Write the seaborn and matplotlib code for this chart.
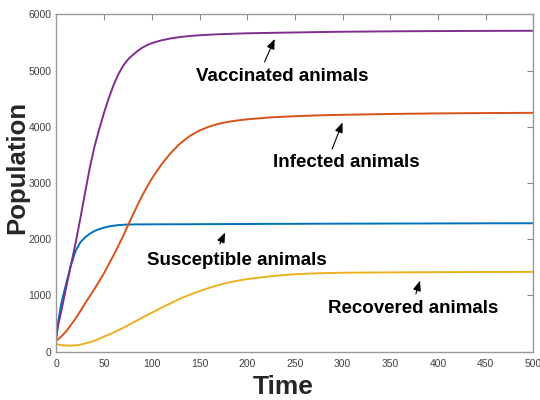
import matplotlib
matplotlib.use("Agg")
import matplotlib.pyplot as plt
import pandas as pd
import seaborn as sns

# Time grid shared by all compartments
time = [0, 2, 5, 7, 10, 15, 20, 25, 30, 35, 40, 45, 50, 55, 60, 65, 70, 75, 80,
        85, 90, 95, 100, 110, 120, 130, 140, 150, 160, 170, 180, 190, 200, 225,
        250, 275, 300, 350, 400, 450, 500]

susceptible = [250, 560, 850, 1000, 1200, 1530, 1790, 1945, 2035, 2100, 2148,
               2182, 2208, 2228, 2242, 2252, 2258, 2262, 2264, 2265, 2266, 2266,
               2266, 2267, 2267, 2268, 2268, 2269, 2270, 2270, 2271, 2271, 2272,
               2274, 2275, 2277, 2278, 2280, 2282, 2284, 2285]

infected = [200, 225, 270, 305, 360, 470, 590, 720, 860, 990, 1120, 1260, 1400,
            1560, 1720, 1890, 2060, 2250, 2430, 2610, 2780, 2935, 3080, 3330,
            3540, 3710, 3840, 3935, 4005, 4055, 4090, 4115, 4135, 4170, 4190,
            4205, 4215, 4230, 4240, 4246, 4250]

vaccinated = [330, 490, 720, 880, 1130, 1530, 1930, 2370, 2830, 3280, 3660,
              3970, 4260, 4520, 4750, 4940, 5090, 5200, 5280, 5350, 5410, 5455,
              5490, 5540, 5575, 5600, 5618, 5630, 5640, 5648, 5654, 5660, 5665,
              5673, 5680, 5687, 5693, 5700, 5705, 5708, 5710]

recovered = [130, 125, 118, 114, 110, 108, 112, 125, 145, 168, 195, 230, 268,
             305, 342, 383, 425, 470, 515, 560, 605, 650, 695, 782, 865, 945,
             1015, 1078, 1135, 1185, 1230, 1263, 1292, 1343, 1378, 1395, 1405,
             1411, 1415, 1418, 1420]

series_names = ["Susceptible", "Infected", "Vaccinated", "Recovered"]
series_colors = ["#0072BD", "#D95319", "#7E2F8E", "#EDB120"]

x_ticks = list(range(0, 501, 50))
y_ticks = list(range(0, 6001, 1000))

# Annotation labels: (text, text centre, arrow tail, arrow head) in data units
labels = [
    ("Vaccinated animals", (237, 4890), (217, 5110), (230, 5610)),
    ("Infected animals", (304, 3360), (288, 3560), (301, 4125)),
    ("Susceptible animals", (189, 1630), (170, 1870), (178, 2165)),
    ("Recovered animals", (374, 775), (376, 980), (382, 1310)),
]

df = pd.concat([
    pd.DataFrame({"Time": time, "Population": vals, "Group": name})
    for name, vals in zip(series_names, [susceptible, infected, vaccinated, recovered])
], ignore_index=True)

sns.set_theme(style="white")
plt.rcParams["font.family"] = ["Liberation Sans", "DejaVu Sans"]

fig = plt.figure(figsize=(5.4, 4.0), dpi=100)
ax = fig.add_axes([0.1046, 0.1208, 0.883, 0.843])

sns.lineplot(data=df, x="Time", y="Population", hue="Group",
             hue_order=series_names, palette=series_colors, linewidth=1.4,
             legend=False, ax=ax)

ax.set_xlim(0, 500)
ax.set_ylim(0, 6000)
ax.set_xticks(x_ticks)
ax.set_yticks(y_ticks)
ax.set_xticklabels([str(v) for v in x_ticks], fontsize=7.5, color="#404040")
ax.set_yticklabels([str(v) for v in y_ticks], fontsize=7.5, color="#404040")
ax.tick_params(direction="in", length=4, width=0.8, color="#888888",
               top=True, right=True)
ax.tick_params(axis="x", pad=5.5)
ax.tick_params(axis="y", pad=3.5)
for s in ax.spines.values():
    s.set_color("#999999")
    s.set_linewidth(1.0)
    s.set_visible(True)

ax.set_xlabel("Time", fontsize=19, fontweight="bold")
ax.set_ylabel("Population", fontsize=18.5, fontweight="bold")
ax.xaxis.set_label_coords(0.475, -0.068)
ax.yaxis.set_label_coords(-0.058, 0.545)

for text, (tx, ty), (ax0, ay0), (hx, hy) in labels:
    ax.text(tx, ty, text, ha="center", va="center", fontsize=13.5,
            fontweight="bold", color="black")
    ax.annotate("", xy=(hx, hy), xytext=(ax0, ay0),
                arrowprops=dict(arrowstyle="-|>,head_length=0.5,head_width=0.2",
                                color="black", lw=0.8))

fig.savefig("out.png", dpi=100)
